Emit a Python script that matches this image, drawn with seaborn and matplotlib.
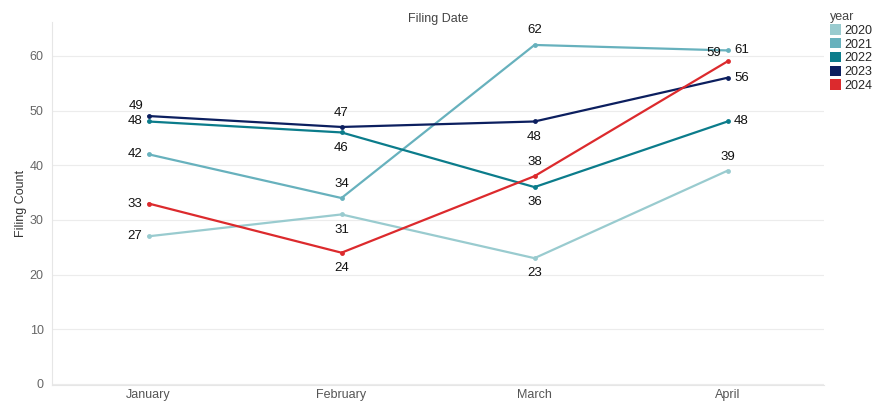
import pandas as pd
import matplotlib.pyplot as plt
import seaborn as sns
from matplotlib.patches import Patch

# Data
months = ['January', 'February', 'March', 'April']
years = ['2020', '2021', '2022', '2023', '2024']
counts_2020 = [27, 31, 23, 39]
counts_2021 = [42, 34, 62, 61]
counts_2022 = [48, 46, 36, 48]
counts_2023 = [49, 47, 48, 56]
counts_2024 = [33, 24, 38, 59]

colors = ['#99cbcf', '#67b1bd', '#0b7c8b', '#0c1f5f', '#dc2a2d']

# label offsets (points) per year / month
offsets = {
    '2020': [(-10, 0), (0, -11), (0, -11), (0, 10)],
    '2021': [(-10, 0), (0, 10), (0, 11), (10, 0)],
    '2022': [(-10, 0), (0, -11), (0, -11), (10, 0)],
    '2023': [(-9, 7), (0, 10), (0, -11), (10, 0)],
    '2024': [(-10, 0), (0, -11), (0, 10), (-10, 6)],
}

all_counts = [counts_2020, counts_2021, counts_2022, counts_2023, counts_2024]
rows = []
for y, vals in zip(years, all_counts):
    for i, (m, v) in enumerate(zip(months, vals)):
        rows.append({'month': m, 'pos': i, 'year': y, 'count': v})
df = pd.DataFrame(rows)

sns.set_style('white')
plt.rcParams['font.family'] = ['Liberation Sans', 'DejaVu Sans']

fig = plt.figure(figsize=(8.72, 4.01), dpi=100)
ax = fig.add_axes([52 / 872, 16 / 401, (824 - 52) / 872, (385 - 22) / 401])

sns.lineplot(data=df, x='pos', y='count', hue='year', palette=colors,
             marker='o', markersize=3.5, markeredgewidth=0, linewidth=1.6,
             legend=False, ax=ax)

# Data labels
for y, vals in zip(years, all_counts):
    for i, v in enumerate(vals):
        ax.annotate(str(v), (i, v), xytext=offsets[y][i], textcoords='offset points',
                    ha='center', va='center', fontsize=9.5, color='#111111')

ax.set_xlim(-0.5, 3.5)
ax.set_ylim(-0.2, 66.2)
ax.set_xticks(range(len(months)))
ax.set_xticklabels(months)
ax.set_xticks([-0.5, 0.5, 1.5, 2.5, 3.5], minor=True)
ax.tick_params(axis='x', which='major', length=0, labelsize=9, labelcolor='#555555', pad=3)
ax.tick_params(axis='x', which='minor', length=4, color='#dddddd', width=0.8, direction='out')
ax.set_yticks([0, 10, 20, 30, 40, 50, 60])
ax.tick_params(axis='y', length=0, labelsize=9, labelcolor='#666666', pad=6)
ax.grid(axis='y', color='#ececec', linewidth=0.8)
ax.set_axisbelow(True)

for side in ['top', 'right']:
    ax.spines[side].set_visible(False)
for side in ['left', 'bottom']:
    ax.spines[side].set_color('#e6e6e6')
    ax.spines[side].set_linewidth(0.8)

ax.set_xlabel('')
ax.set_ylabel('Filing Count', fontsize=9, color='#333333', labelpad=2)
ax.set_title('Filing Date', fontsize=9, color='#444444', pad=0)

handles = [Patch(facecolor=c, edgecolor='none') for c in colors]
leg = fig.legend(handles, years, title='year', loc='upper left',
                 bbox_to_anchor=(830 / 872, 1 - 11 / 401), frameon=False,
                 fontsize=9, title_fontsize=9, handlelength=0.9, handleheight=0.9,
                 handletextpad=0.25, labelspacing=0.1, borderaxespad=0, borderpad=0)
leg._legend_box.align = 'left'
leg.get_title().set_color('#444444')

plt.savefig('out.png', dpi=100)
